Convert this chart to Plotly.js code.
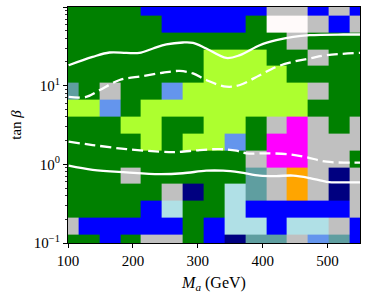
<!DOCTYPE html>
<html>
<head>
<meta charset="utf-8">
<script src="https://cdn.plot.ly/plotly-3.0.1.min.js"></script>
<style>html,body{margin:0;padding:0;background:#fff}#chart{width:366px;height:296px}</style>
</head>
<body>
<div id="chart"></div>
<script>
// Grid centres (M_a in GeV, tan beta)
var massValues = [100, 132.1, 164.3, 196.4, 228.6, 260.7, 292.9, 325, 357.1, 389.3, 421.4, 453.6, 485.7, 517.9, 550];
var tanbValues = [0.1, 0.1638, 0.2683, 0.4394, 0.7197, 1.179, 1.931, 3.162, 5.179, 8.483, 13.89, 22.76, 37.28, 61.05, 100];

// Category codes and their colours
var categoryCodes  = ['G', 'GY', 'B', 'S', 'W', 'CF', 'CB', 'M', 'O', 'N', 'PB'];
var categoryColors = ['#008000', '#adff2f', '#0000ff', '#c0c0c0', '#fffafa', '#6495ed', '#5f9ea0', '#ff00ff', '#ffa500', '#000080', '#b0e0e6'];

// Rows from bottom (tan beta = 0.1) to top (tan beta = 100)
var row00 = ['G','G','B','G','S','S','G','B','N','CB','CB','S','CF','CB','B'];
var row01 = ['S','B','B','B','B','B','G','B','PB','PB','B','PB','PB','S','B'];
var row02 = ['G','G','G','G','B','PB','G','G','PB','B','B','B','B','B','S'];
var row03 = ['G','G','G','G','G','S','N','G','PB','CB','S','O','S','N','S'];
var row04 = ['G','G','G','S','G','G','G','G','G','CB','S','O','S','N','S'];
var row05 = ['G','G','G','G','G','G','G','G','G','S','M','M','S','S','G'];
var row06 = ['G','G','G','G','GY','G','GY','GY','CF','G','M','M','S','S','S'];
var row07 = ['G','G','G','GY','GY','G','G','GY','GY','G','S','M','S','G','S'];
var row08 = ['GY','GY','CF','G','GY','GY','GY','GY','GY','GY','GY','GY','G','G','G'];
var row09 = ['CB','G','S','G','G','CF','GY','GY','GY','GY','GY','GY','S','G','G'];
var row10 = ['G','G','G','G','G','G','G','GY','GY','GY','GY','G','G','G','G'];
var row11 = ['G','G','G','G','G','G','G','GY','GY','GY','G','G','S','G','G'];
var row12 = ['G','G','G','G','G','G','G','G','G','G','G','S','G','G','G'];
var row13 = ['G','G','G','G','G','B','B','B','B','G','W','W','S','B','S'];
var row14 = ['G','G','G','G','B','B','B','B','B','B','S','S','B','S','B'];

// Contour curves
var solidUpperX  = [101, 138, 164, 190, 210, 231, 251.5, 277, 292.6, 313, 344, 365, 395.5, 421, 447, 472.7, 524, 550];
var solidUpperY  = [18.2, 23.2, 26.4, 26.1, 26.1, 29.7, 33.4, 35.4, 35, 29.7, 22.5, 24.4, 32.6, 37.8, 41.7, 43.8, 44.7, 44.7];
var dashUpperX   = [101, 128, 149, 179.5, 215, 246, 272, 292.6, 313, 344, 365, 395.5, 421, 447, 472.7, 498.5, 550];
var dashUpperY   = [7.2, 7.2, 8.8, 11.8, 13.2, 14.6, 15.4, 14.3, 11.8, 9.7, 10.2, 13.6, 17.3, 20.1, 22.2, 24.4, 26.1];
var dashLowerX   = [101, 138, 190, 241, 267, 303, 334, 359.6, 375, 406, 442, 467.6, 498.5, 550];
var dashLowerY   = [1.94, 1.76, 1.56, 1.45, 1.43, 1.52, 1.56, 1.49, 1.38, 1.38, 1.34, 1.23, 1.08, 1.05];
var solidLowerX  = [101, 138, 190, 241, 277, 313, 339, 365, 395.5, 421, 447, 472.7, 498.5, 524, 550];
var solidLowerY  = [0.96, 0.85, 0.79, 0.75, 0.77, 0.83, 0.83, 0.79, 0.72, 0.71, 0.72, 0.67, 0.60, 0.59, 0.59];

var yTickVals = [0.1, 1, 10, 100];
var yTickText = ['10<sup>\u22121</sup>', '10<sup>0</sup>', '10<sup>1</sup>', '10<sup>2</sup>'];
var xTickVals = [100, 200, 300, 400, 500];

// build z and colourscale
var rows = [row00,row01,row02,row03,row04,row05,row06,row07,row08,row09,row10,row11,row12,row13,row14];
var z = rows.map(function(r){ return r.map(function(c){ return categoryCodes.indexOf(c); }); });
var n = categoryCodes.length;
var colorscale = [];
for (var k = 0; k < n; k++) {
  colorscale.push([k / n, categoryColors[k]]);
  colorscale.push([(k + 1) / n, categoryColors[k]]);
}
// geometric cell edges for the log axis
var yEdges = [];
var ratio = tanbValues[1] / tanbValues[0];
yEdges.push(tanbValues[0] / Math.sqrt(ratio));
for (var i = 1; i < tanbValues.length; i++) yEdges.push(Math.sqrt(tanbValues[i-1] * tanbValues[i]));
yEdges.push(tanbValues[tanbValues.length-1] * Math.sqrt(ratio));

var minorVals = [];
[0.1, 1, 10].forEach(function(d){ for (var m = 2; m <= 9; m++) minorVals.push(d * m); });

var lineStyle = function(dash){ return {color: '#ffffff', width: 2.3, shape: 'spline', dash: dash}; };

var data = [
  {type: 'heatmap', x: massValues, y: yEdges, z: z, colorscale: colorscale,
   zmin: -0.5, zmax: n - 0.5, showscale: false, hoverinfo: 'skip'},
  {type: 'scatter', mode: 'lines', x: solidUpperX, y: solidUpperY, line: lineStyle('solid'), hoverinfo: 'skip'},
  {type: 'scatter', mode: 'lines', x: dashUpperX, y: dashUpperY, line: lineStyle('11px,5px'), hoverinfo: 'skip'},
  {type: 'scatter', mode: 'lines', x: dashLowerX, y: dashLowerY, line: lineStyle('11px,5px'), hoverinfo: 'skip'},
  {type: 'scatter', mode: 'lines', x: solidLowerX, y: solidLowerY, line: lineStyle('solid'), hoverinfo: 'skip'}
];

var fontFam = 'Liberation Serif, DejaVu Serif, serif';
var layout = {
  width: 366, height: 296,
  margin: {l: 68, r: 6, t: 7, b: 53},
  paper_bgcolor: '#ffffff', plot_bgcolor: '#ffffff',
  showlegend: false,
  font: {family: fontFam, size: 15, color: '#000'},
  xaxis: {
    range: [100, 550], tickmode: 'array', tickvals: xTickVals,
    ticks: 'outside', ticklen: 4, tickwidth: 1, tickcolor: '#000',
    showline: true, mirror: true, linecolor: '#000', linewidth: 1,
    showgrid: false, zeroline: false,
    tickfont: {family: fontFam, size: 15},
    title: {text: '<i>M<sub>a</sub></i> (GeV)', font: {family: fontFam, size: 16}, standoff: 8}
  },
  yaxis: {
    type: 'log', range: [-1, 2], tickmode: 'array', tickvals: yTickVals, ticktext: yTickText,
    ticks: 'outside', ticklen: 4, tickwidth: 1, tickcolor: '#000',
    minor: {tickvals: minorVals, ticks: 'outside', ticklen: 2.5, tickcolor: '#000', tickwidth: 0.8, showgrid: false},
    showline: true, mirror: true, linecolor: '#000', linewidth: 1,
    showgrid: false, zeroline: false,
    tickfont: {family: fontFam, size: 15},
    title: {text: 'tan <i>\u03b2</i>', font: {family: fontFam, size: 15}, standoff: 8}
  }
};

Plotly.newPlot('chart', data, layout, {staticPlot: true, displayModeBar: false});
</script>
</body>
</html>
